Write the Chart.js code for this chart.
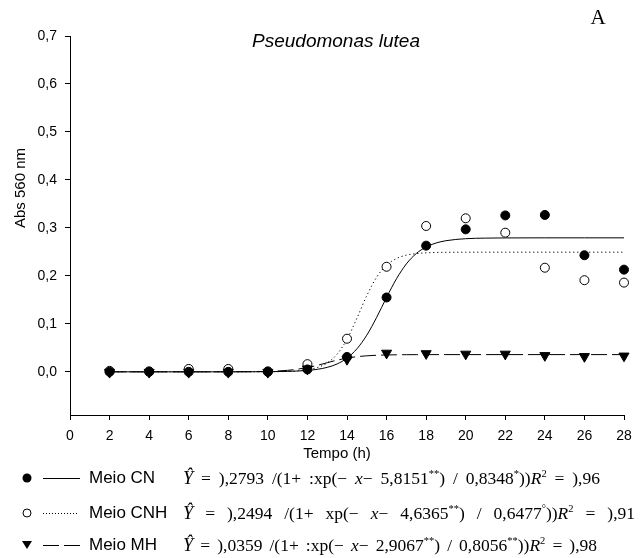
<!DOCTYPE html>
<html>
<head>
<meta charset="utf-8">
<script src="https://cdn.jsdelivr.net/npm/chart.js@4.4.1/dist/chart.umd.min.js"></script>
<style>
    body { margin: 0; background: #fff; }
    #wrap { position: relative; width: 640px; height: 558px; overflow: hidden; }
    #chart { position: absolute; left: 0; top: 0; }
    #keys { position: absolute; left: 0; top: 0; }
    .name { position: absolute; left: 89px; font: 17px "Liberation Sans", Arial, sans-serif; line-height: 20px; white-space: pre; }
    .eq { position: absolute; left: 183px; font: 17.5px "Liberation Serif", "Times New Roman", serif; line-height: 22px; white-space: pre; }
    .eq sup { font-size: 0.6em; line-height: 0; }
    .eq .hat { font-size: 1.05em; }
</style>
</head>
<body>
<div id="wrap">
    <canvas id="chart" width="640" height="558"></canvas>
    <svg id="keys" width="100" height="558">
        <circle cx="27" cy="478" r="4.5" fill="#000"/>
        <line x1="43" y1="478.5" x2="80" y2="478.5" stroke="#000" stroke-width="1"/>
        <circle cx="27" cy="513" r="4" fill="#fff" stroke="#000" stroke-width="1"/>
        <line x1="43" y1="513.5" x2="78" y2="513.5" stroke="#000" stroke-width="1" stroke-dasharray="1,2"/>
        <path d="M22,541 L32,541 L27,549 Z" fill="#000"/>
        <line x1="43" y1="545.5" x2="80" y2="545.5" stroke="#000" stroke-width="1" stroke-dasharray="16,5"/>
    </svg>
    <div class="name" style="top:468px">Meio CN</div>
    <div class="name" style="top:503px">Meio CNH</div>
    <div class="name" style="top:535px">Meio MH</div>
    <div class="eq" data-end="600" style="top:467px"><i class="hat">Ŷ</i> = ),2793 /(1+ :xp(− <i>x</i>− 5,8151<sup>**</sup>) / 0,8348<sup>*</sup>))<i>R</i><sup>2</sup> = ),96</div>
    <div class="eq" data-end="635" style="top:502px"><i class="hat">Ŷ</i> = ),2494 /(1+ xp(− <i>x</i>− 4,6365<sup>**</sup>) / 0,6477<sup>°</sup>))<i>R</i><sup>2</sup> = ),91</div>
    <div class="eq" data-end="597" style="top:534px"><i class="hat">Ŷ</i> = ),0359 /(1+ :xp(− <i>x</i>− 2,9067<sup>**</sup>) / 0,8056<sup>**</sup>))<i>R</i><sup>2</sup> = ),98</div>
</div>

<script>
// observed absorbance (Abs 560 nm) per sampling time
const hours = [2, 4, 6, 8, 10, 12, 14, 16, 18, 20, 22, 24, 26, 28];
const cnObs = [0.000, 0.000, 0.000, 0.000, 0.000, 0.005, 0.031, 0.155, 0.263, 0.297, 0.326, 0.327, 0.243, 0.213];
const cnhObs = [0.002, 0.001, 0.006, 0.006, 0.001, 0.016, 0.069, 0.219, 0.304, 0.320, 0.290, 0.217, 0.191, 0.186];
const mhObs = [-0.001, -0.001, -0.001, -0.001, -0.001, 0.006, 0.026, 0.039, 0.038, 0.037, 0.037, 0.034, 0.032, 0.033];

// fitted curves
const fitHours = [2, 4, 6, 8, 10, 11, 12, 12.5, 13, 13.5, 14, 14.5, 15, 15.5, 16, 16.5, 17, 17.5, 18, 18.5, 19, 20, 21, 22, 24, 26, 28];
const cnFit = [0, 0, 0, 0, 0.0003, 0.0009, 0.0029, 0.0052, 0.0093, 0.0164, 0.0285, 0.0479, 0.0764, 0.1136, 0.1551, 0.1939, 0.2249, 0.2465, 0.2603, 0.2685, 0.2733, 0.2775, 0.2787, 0.2791, 0.2793, 0.2793, 0.2793];
const cnhFit = [0, 0, 0, 0, 0.0002, 0.0009, 0.0042, 0.0089, 0.0185, 0.0368, 0.0679, 0.1116, 0.1588, 0.1974, 0.2223, 0.2361, 0.2431, 0.2464, 0.2480, 0.2488, 0.2491, 0.2493, 0.2494, 0.2494, 0.2494, 0.2494, 0.2494];
const mhFit = [0, 0, 0, 0.0001, 0.0010, 0.0031, 0.0088, 0.0135, 0.0190, 0.0243, 0.0286, 0.0315, 0.0334, 0.0345, 0.0351, 0.0355, 0.0357, 0.0358, 0.0358, 0.0359, 0.0359, 0.0359, 0.0359, 0.0359, 0.0359, 0.0359, 0.0359];

const xMin = 0, xMax = 28, xStep = 2;
const yMin = -0.09, yMax = 0.7;
const yTicks = [0, 0.1, 0.2, 0.3, 0.4, 0.5, 0.6, 0.7];

function toPoints(xs, ys) {
    return xs.map((x, i) => ({ x: x, y: ys[i] }));
}

// stretch the equation gaps so each line ends where it does in the figure
function spreadEquations() {
    document.querySelectorAll(".eq").forEach(el => {
        const end = Number(el.dataset.end);
        const gaps = (el.textContent.match(/ /g) || []).length;
        const width = el.getBoundingClientRect().width;
        el.style.wordSpacing = ((end - 183 - width) / gaps).toFixed(2) + "px";
    });
}
spreadEquations();

const sans = '"Liberation Sans", Arial, sans-serif';

// free-standing texts: title, panel letter, axis titles
const textPlugin = {
    id: "texts",
    afterDraw(chart) {
        const ctx = chart.ctx;
        ctx.save();
        ctx.fillStyle = "#000";
        ctx.textAlign = "center";
        ctx.textBaseline = "middle";
        ctx.font = "italic 19px " + sans;
        ctx.fillText("Pseudomonas lutea", 336, 42);
        ctx.font = '21px "Liberation Serif", "Times New Roman", serif';
        ctx.fillText("A", 598, 18);
        ctx.font = "15px " + sans;
        ctx.fillText("Tempo (h)", 337, 454);
        ctx.translate(21, 188);
        ctx.rotate(-Math.PI / 2);
        ctx.fillText("Abs 560 nm", 0, 0);
        ctx.restore();
    }
};

const ctx = document.getElementById("chart").getContext("2d");

new Chart(ctx, {
    type: "scatter",
    data: {
        datasets: [
            {
                label: "Meio MH",
                data: toPoints(hours, mhObs),
                pointStyle: "triangle",
                rotation: 180,
                pointRadius: 5.8,
                backgroundColor: "#000",
                borderColor: "#000",
                borderWidth: 1,
                clip: false
            },
            {
                label: "Meio CN",
                data: toPoints(hours, cnObs),
                pointStyle: "circle",
                pointRadius: 4.5,
                backgroundColor: "#000",
                borderColor: "#000",
                borderWidth: 1,
                clip: false
            },
            {
                label: "Meio CNH",
                data: toPoints(hours, cnhObs),
                pointStyle: "circle",
                pointRadius: 4.5,
                backgroundColor: "#fff",
                borderColor: "#000",
                borderWidth: 1,
                clip: false
            },
            {
                label: "CN fit",
                type: "line",
                data: toPoints(fitHours, cnFit),
                borderColor: "#000",
                borderWidth: 1,
                pointRadius: 0,
                cubicInterpolationMode: "monotone",
                fill: false
            },
            {
                label: "CNH fit",
                type: "line",
                data: toPoints(fitHours, cnhFit),
                borderColor: "#000",
                borderWidth: 1,
                borderDash: [1.2, 2.8],
                pointRadius: 0,
                cubicInterpolationMode: "monotone",
                fill: false
            },
            {
                label: "MH fit",
                type: "line",
                data: toPoints(fitHours, mhFit),
                borderColor: "#000",
                borderWidth: 1,
                borderDash: [16, 5],
                pointRadius: 0,
                cubicInterpolationMode: "monotone",
                fill: false
            }
        ]
    },
    options: {
        responsive: false,
        animation: false,
        devicePixelRatio: 1,
        layout: { padding: { top: 36, right: 16, bottom: 100, left: 0 } },
        plugins: {
            legend: { display: false },
            tooltip: { enabled: false }
        },
        scales: {
            x: {
                type: "linear",
                min: xMin,
                max: xMax,
                afterFit: s => { s.height = 43; },
                ticks: { stepSize: xStep, color: "#000", font: { family: sans, size: 14 }, padding: 8 },
                grid: { drawOnChartArea: false, tickLength: 5, color: "#000" },
                border: { color: "#000", width: 1 }
            },
            y: {
                type: "linear",
                min: yMin,
                max: yMax,
                afterFit: s => { s.width = 70; },
                afterBuildTicks: s => { s.ticks = yTicks.map(v => ({ value: v })); },
                ticks: {
                    color: "#000",
                    font: { family: sans, size: 14 },
                    padding: 8,
                    callback: v => v.toFixed(1).replace(".", ",")
                },
                grid: { drawOnChartArea: false, tickLength: 5, color: "#000" },
                border: { color: "#000", width: 1 }
            }
        }
    },
    plugins: [textPlugin]
});
</script>
</body>
</html>
